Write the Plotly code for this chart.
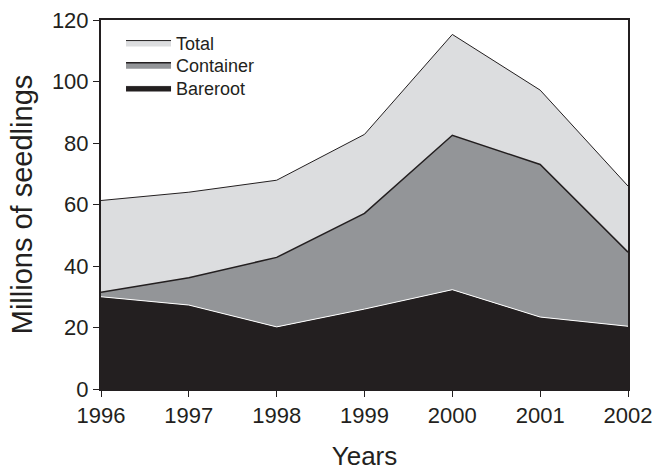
import plotly.graph_objects as go

years = [1996, 1997, 1998, 1999, 2000, 2001, 2002]
total = [61.3, 64.0, 67.9, 82.8, 115.3, 97.2, 66.0]
bareroot = [30.0, 27.3, 20.2, 26.0, 32.3, 23.4, 20.4]
container = [1.5, 8.9, 22.6, 31.1, 50.2, 49.6, 24.1]

fig = go.Figure()
fig.add_trace(go.Scatter(x=years, y=total, name="Total", mode="lines",
                         fill="tozeroy", fillcolor="#dcdddf",
                         line=dict(color="#231f20", width=1), legend="legend"))
fig.add_trace(go.Scatter(x=years, y=bareroot, name="Bareroot", mode="lines",
                         stackgroup="s", fillcolor="#231f20",
                         line=dict(color="#ffffff", width=1), legend="legend3"))
fig.add_trace(go.Scatter(x=years, y=container, name="Container", mode="lines",
                         stackgroup="s", fillcolor="#939598",
                         line=dict(color="#231f20", width=1.5), legend="legend2"))

leg_common = dict(x=0.038, xanchor="left", yanchor="middle",
                  bgcolor="rgba(0,0,0,0)", font=dict(size=18), itemwidth=45)

fig.update_layout(
    width=654, height=471,
    margin=dict(l=101, r=26, t=20, b=82, autoexpand=False),
    paper_bgcolor="white", plot_bgcolor="white",
    font=dict(family="Liberation Sans, Arial, sans-serif", color="#231f20", size=22),
    showlegend=True,
    legend=dict(y=0.938, **leg_common),
    legend2=dict(y=0.878, **leg_common),
    legend3=dict(y=0.816, **leg_common),
    xaxis=dict(range=[1996, 2002], tickvals=years, ticktext=[str(y) for y in years],
               showgrid=False, zeroline=False, showline=True, linecolor="#231f20",
               linewidth=2, mirror=True, ticks="outside", ticklen=6,
               tickcolor="#231f20", automargin=False, ticklabeloverflow="allow",
               title=dict(text="Years", font=dict(size=26), standoff=20)),
    yaxis=dict(range=[0, 120], tickvals=[0, 20, 40, 60, 80, 100, 120],
               showgrid=False, zeroline=False, showline=True, linecolor="#231f20",
               linewidth=2, mirror=True, ticks="outside", ticklen=6,
               tickcolor="#231f20", automargin=False, ticklabeloverflow="allow",
               title=dict(text="Millions of seedlings", font=dict(size=29), standoff=11)),
)

fig.write_html("out.html", config={"displayModeBar": False},
               post_script="document.body.style.margin='0';")
